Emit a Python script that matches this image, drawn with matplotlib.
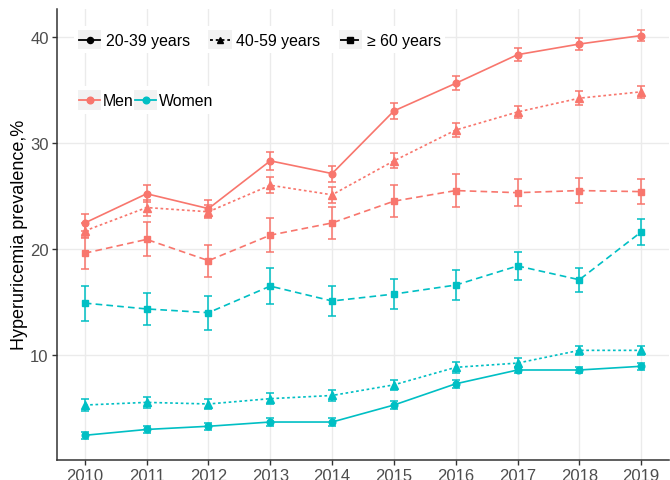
import matplotlib
matplotlib.use("Agg")
import matplotlib.pyplot as plt
from matplotlib.lines import Line2D
from matplotlib.patches import Rectangle
from matplotlib.legend_handler import HandlerBase

plt.rcParams["font.family"] = ["Liberation Sans", "DejaVu Sans"]

years = [2010, 2011, 2012, 2013, 2014, 2015, 2016, 2017, 2018, 2019]

men_20_39 = [22.45, 25.2, 23.8, 28.3, 27.1, 33.0, 35.6, 38.3, 39.3, 40.1]
men_20_39_err = [0.8, 0.8, 0.8, 0.85, 0.75, 0.75, 0.65, 0.6, 0.55, 0.5]
men_40_59 = [21.7, 23.9, 23.5, 26.0, 25.1, 28.3, 31.2, 32.9, 34.2, 34.8]
men_40_59_err = [0.7, 0.75, 0.6, 0.75, 0.75, 0.7, 0.65, 0.6, 0.63, 0.55]
men_60 = [19.6, 20.9, 18.9, 21.3, 22.45, 24.5, 25.5, 25.3, 25.5, 25.4]
men_60_err = [1.5, 1.6, 1.5, 1.6, 1.5, 1.5, 1.55, 1.25, 1.15, 1.15]

women_20_39 = [2.45, 3.0, 3.3, 3.7, 3.7, 5.3, 7.3, 8.6, 8.6, 8.95]
women_20_39_err = [0.35, 0.35, 0.35, 0.35, 0.35, 0.35, 0.35, 0.3, 0.3, 0.35]
women_40_59 = [5.3, 5.55, 5.4, 5.9, 6.2, 7.2, 8.85, 9.25, 10.45, 10.45]
women_40_59_err = [0.55, 0.5, 0.5, 0.5, 0.5, 0.45, 0.5, 0.45, 0.4, 0.4]
women_60 = [14.9, 14.35, 14.0, 16.5, 15.1, 15.75, 16.6, 18.4, 17.1, 21.6]
women_60_err = [1.65, 1.5, 1.6, 1.7, 1.45, 1.4, 1.45, 1.3, 1.15, 1.2]

age_labels = ["20-39 years", "40-59 years", "\u2265 60 years"]
sex_labels = ["Men", "Women"]

MEN = "#F8766D"
WOMEN = "#00BFC4"
styles = {
    "20-39": dict(ls="-", marker="o", ms=4.8),
    "40-59": dict(ls=(0, (1.6, 1.6)), marker="^", ms=5.2),
    "60": dict(ls=(0, (4, 2.5)), marker="s", ms=4.6),
}

fig = plt.figure(figsize=(6.7, 4.81), dpi=100)
ax = fig.add_axes([57 / 670, 1 - 460.5 / 481, 612 / 670, 450.5 / 481])

series = [
    (women_20_39, women_20_39_err, WOMEN, "20-39"),
    (women_40_59, women_40_59_err, WOMEN, "40-59"),
    (women_60, women_60_err, WOMEN, "60"),
    (men_20_39, men_20_39_err, MEN, "20-39"),
    (men_40_59, men_40_59_err, MEN, "40-59"),
    (men_60, men_60_err, MEN, "60"),
]
for vals, errs, col, key in series:
    st = styles[key]
    ax.errorbar(years, vals, yerr=errs, fmt="none", ecolor=col, elinewidth=1.3,
                capsize=3.2, capthick=1.3, alpha=0.85, zorder=3)
    ax.plot(years, vals, color=col, linestyle=st["ls"], lw=1.2,
            marker=st["marker"], ms=st["ms"], mec=col, mfc=col, zorder=4)

ax.set_xlim(2009.55, 2019.45)
ax.set_ylim(0.17, 42.6)
ax.set_xticks(years)
ax.set_yticks([10, 20, 30, 40])
ax.grid(True, color="#EBEBEB", lw=1.0)
ax.set_axisbelow(True)
for s in ["top", "right"]:
    ax.spines[s].set_visible(False)
for s in ["left", "bottom"]:
    ax.spines[s].set_color("#333333")
    ax.spines[s].set_linewidth(1.1)
ax.tick_params(axis="both", colors="#333333", labelcolor="#4D4D4D",
               labelsize=12, length=3.5, width=1.0, direction="out", pad=2.5)
ax.set_ylabel("Hyperuricemia prevalence,%", fontsize=13, color="black", labelpad=1.5)


class KeyHandler(HandlerBase):
    def __init__(self, color, ls, marker, ms):
        super().__init__()
        self.color, self.ls, self.marker, self.ms = color, ls, marker, ms

    def create_artists(self, legend, orig_handle, xdescent, ydescent, width,
                       height, fontsize, trans):
        rect = Rectangle((-xdescent, -ydescent), width, height,
                         facecolor="#F2F2F2", edgecolor="none", transform=trans)
        yc = -ydescent + height / 2
        line = Line2D([-xdescent + 1, -xdescent + width - 1], [yc, yc],
                      color=self.color, ls=self.ls, lw=1.3, transform=trans)
        mk = Line2D([-xdescent + width / 2], [yc], color=self.color,
                    marker=self.marker, ms=self.ms, ls="none", transform=trans)
        return [rect, line, mk]


FS = 11.4
age_keys = ["20-39", "40-59", "60"]
h1 = [Line2D([], []) for _ in age_keys]
hm1 = {h: KeyHandler("black", styles[k]["ls"], styles[k]["marker"], styles[k]["ms"] - 0.4)
       for h, k in zip(h1, age_keys)}
leg1 = fig.legend(h1, age_labels, handler_map=hm1, loc="center left",
                  bbox_to_anchor=(74 / 670, 1 - 40.5 / 481), ncol=3, frameon=True,
                  fontsize=FS, handlelength=1.47, handleheight=1.47,
                  handletextpad=0.3, columnspacing=1.15, borderpad=0.25,
                  borderaxespad=0)
leg1.get_frame().set_facecolor("white")
leg1.get_frame().set_edgecolor("none")
leg1.get_frame().set_alpha(1)

h2 = [Line2D([], []) for _ in sex_labels]
hm2 = {h2[0]: KeyHandler(MEN, "-", "o", 4.8), h2[1]: KeyHandler(WOMEN, "-", "o", 4.8)}
leg2 = fig.legend(h2, sex_labels, handler_map=hm2, loc="center left",
                  bbox_to_anchor=(74 / 670, 1 - 101 / 481), ncol=2, frameon=True,
                  fontsize=FS, handlelength=1.47, handleheight=1.55,
                  handletextpad=0.08, columnspacing=0.05, borderpad=0.25,
                  borderaxespad=0)
leg2.get_frame().set_facecolor("white")
leg2.get_frame().set_edgecolor("none")
leg2.get_frame().set_alpha(1)

fig.savefig("out.png", dpi=100)
